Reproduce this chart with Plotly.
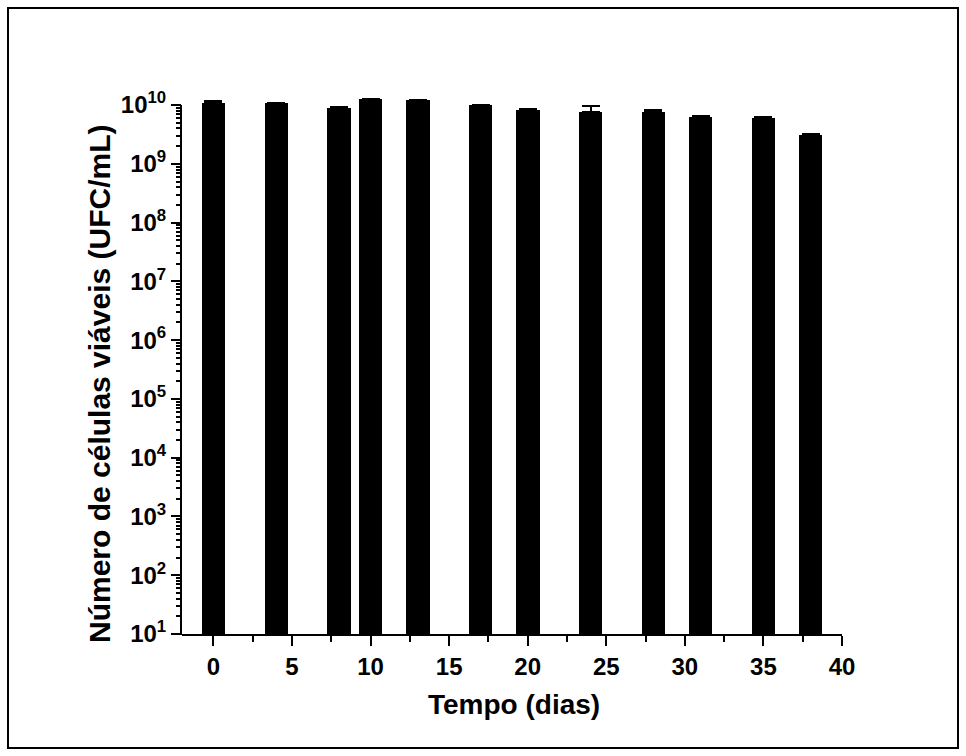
import plotly.graph_objects as go

# Data
dias = [0, 4, 8, 10, 13, 17, 20, 24, 28, 31, 35, 38]
ufc = [1.07e10, 1.07e10, 9.0e9, 1.27e10, 1.2e10, 9.9e9, 8.4e9, 7.6e9, 7.7e9, 6.3e9, 6.0e9, 3.1e9]
erro = [1.1e9, 3e8, 1.5e8, 3e8, 2e8, 2e8, 2e8, 2.0e9, 7e8, 2e8, 2e8, 1.5e8]

y_tickvals = [1e1, 1e2, 1e3, 1e4, 1e5, 1e6, 1e7, 1e8, 1e9, 1e10]
y_ticktext = ["10<sup>%d</sup>" % i for i in range(1, 11)]
x_tickvals = [0, 5, 10, 15, 20, 25, 30, 35, 40]

FONT = "Liberation Sans, Arial, sans-serif"
TICK = 24
YTOP = 10.12  # headroom so bars above 10^10 are not clipped

L, R, B = 182, 124, 122
W, H = 966, 756
dec = (634 - 105) / 9.0
T = int(round(105 - (YTOP - 10) * dec))
pw, ph = W - L - R, H - T - B

fig = go.Figure()
fig.add_trace(go.Bar(
    x=dias, y=ufc, width=1.5,
    marker=dict(color="black", line=dict(width=0)),
    error_y=dict(type="data", array=erro, symmetric=False,
                 arrayminus=[0] * len(erro), color="black",
                 thickness=2, width=9),
))

fig.update_layout(
    width=W, height=H,
    margin=dict(l=L, r=R, t=T, b=B),
    paper_bgcolor="white", plot_bgcolor="white",
    showlegend=False,
    font=dict(family=FONT, color="black", size=TICK, weight="bold"),
    bargap=0,
)
fig.update_xaxes(
    range=[-2, 40], tickvals=x_tickvals, ticks="outside", ticklen=10,
    tickwidth=2, tickcolor="black", showline=True, linecolor="black",
    linewidth=2, showgrid=False, zeroline=False,
    tickfont=dict(size=TICK, family=FONT, weight="bold"),
    minor=dict(dtick=2.5, tick0=0, ticks="outside", ticklen=6,
               tickwidth=2, tickcolor="black", showgrid=False),
)
fig.update_yaxes(
    type="log", range=[1, YTOP], tickvals=y_tickvals, ticktext=y_ticktext,
    ticks="outside", ticklen=10, tickwidth=2, tickcolor="black",
    showline=False, showgrid=False,
    zeroline=False, tickfont=dict(size=TICK, family=FONT, weight="bold"),
    minor=dict(dtick="D1", ticks="outside", ticklen=5, tickwidth=1.5,
               tickcolor="black", showgrid=False),
)

# y axis line only up to 10^10, as in the reference
fig.add_shape(
    type="line", xref="paper", yref="paper", x0=-1.0 / pw, x1=-1.0 / pw,
    y0=-1.0 / ph, y1=(10 - 1) / (YTOP - 1),
    line=dict(color="black", width=2),
)

fig.add_annotation(
    text="Tempo (dias)", xref="paper", yref="paper",
    x=(514 - L) / pw, y=(H - B - 704) / ph, showarrow=False,
    font=dict(size=28, family=FONT, weight="bold"),
    xanchor="center", yanchor="middle",
)
fig.add_annotation(
    text="Número de células viáveis (UFC/mL)", xref="paper", yref="paper",
    x=(100 - L) / pw, y=(H - B - 384) / ph, showarrow=False, textangle=-90,
    font=dict(size=30, family=FONT, weight="bold"),
    xanchor="center", yanchor="middle",
)
fig.add_shape(
    type="rect", xref="paper", yref="paper",
    x0=(8 - L) / pw, x1=(958 - L) / pw,
    y0=(H - B - 748) / ph, y1=(H - B - 8) / ph,
    line=dict(color="black", width=2), fillcolor="rgba(0,0,0,0)",
)

fig.write_html("out.html")
